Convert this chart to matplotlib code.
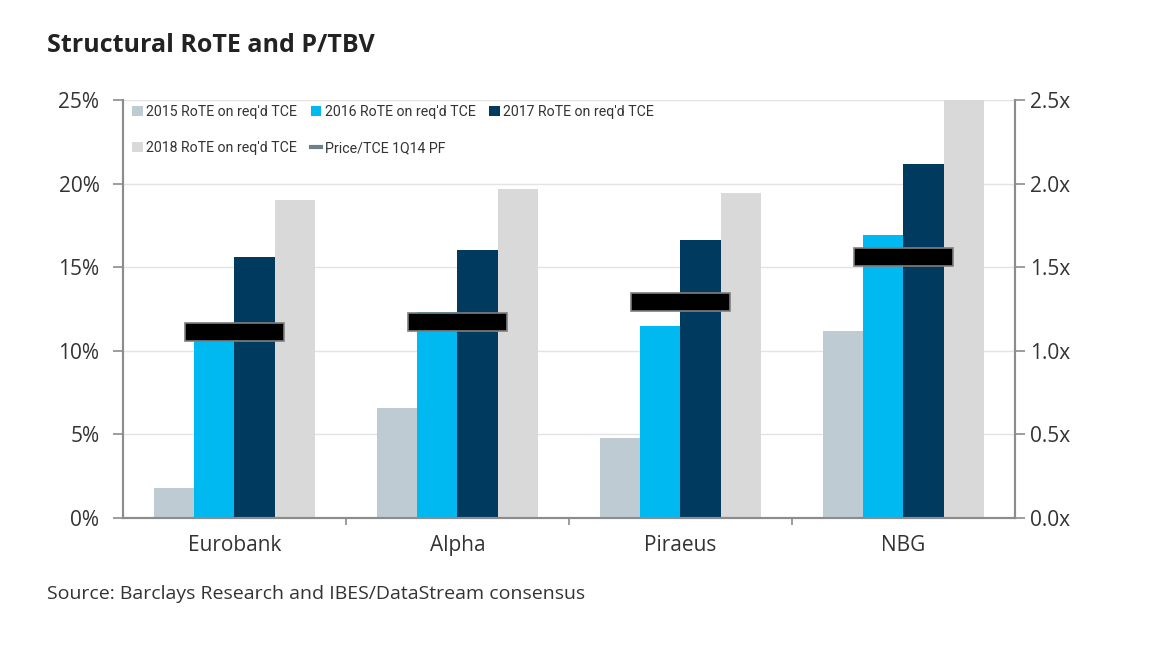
import numpy as np
import matplotlib
matplotlib.use("Agg")
import matplotlib.pyplot as plt
from matplotlib.lines import Line2D
from matplotlib.patches import Patch

plt.rcParams['font.family'] = ['Open Sans', 'DejaVu Sans']

banks = ["Eurobank", "Alpha", "Piraeus", "NBG"]
rote_2015 = [1.8, 6.6, 4.8, 11.2]
rote_2016 = [10.6, 12.3, 11.5, 16.9]
rote_2017 = [15.6, 16.0, 16.6, 21.2]
rote_2018 = [19.0, 19.7, 19.45, 26.0]
price_tce = [1.11, 1.17, 1.29, 1.56]

series = [
    ("2015 RoTE on req'd TCE", rote_2015, "#bfcbd3"),
    ("2016 RoTE on req'd TCE", rote_2016, "#00b9f1"),
    ("2017 RoTE on req'd TCE", rote_2017, "#003a5e"),
    ("2018 RoTE on req'd TCE", rote_2018, "#d9d9d9"),
]

txt = "#333333"
spine_c = "#8c8c8c"

fig = plt.figure(figsize=(11.68, 6.56), dpi=100)
ax = fig.add_axes([0.1053, 0.2104, 0.7637, 0.6372])
ax2 = ax.twinx()

x = np.arange(len(banks))
w = 0.181
handles = []
for i, (name, vals, col) in enumerate(series):
    ax.bar(x + (i - 1.5) * w, vals, width=w, color=col, zorder=2)
    handles.append(Patch(facecolor=col, label=name))

# Price/TCE markers (wide black blocks)
bh = 0.107
ax2.bar(x, [bh] * len(x), bottom=np.array(price_tce) - bh / 2, width=0.44,
        color="black", edgecolor="#7f7f7f", linewidth=1.2, zorder=5)

ax.set_xlim(-0.5, 3.5)
ax.set_ylim(0, 25)
ax2.set_ylim(0, 2.5)

ax.set_yticks(np.arange(0, 26, 5))
ax.set_yticklabels([f"{v}%" for v in range(0, 26, 5)])
ax2.set_yticks(np.arange(0, 2.51, 0.5))
ax2.set_yticklabels([f"{v:.1f}x" for v in np.arange(0, 2.51, 0.5)])

ax.set_xticks(x)
ax.set_xticklabels(banks)
ax.set_xticks([0.5, 1.5, 2.5], minor=True)
ax.tick_params(axis="x", which="major", length=0, pad=12, labelsize=15, labelcolor=txt)
ax.tick_params(axis="x", which="minor", length=5, width=1.2, color=spine_c, direction="out")
ax.tick_params(axis="y", length=7, width=1.2, color=spine_c, labelsize=15, labelcolor=txt, pad=10)
ax2.tick_params(axis="y", length=7, width=1.2, color=spine_c, labelsize=15, labelcolor=txt, pad=4)

ax.grid(axis="y", color="#e3e3e3", linewidth=1, zorder=0)
ax.set_axisbelow(True)

for a in (ax, ax2):
    a.spines["top"].set_visible(False)
    for s in ("left", "right", "bottom"):
        a.spines[s].set_color(spine_c)
        a.spines[s].set_linewidth(1.5)

price_handle = Line2D([0], [0], color="#6f7f8c", linewidth=3, label="Price/TCE 1Q14 PF")
order = [handles[0], handles[3], handles[1], price_handle, handles[2]]
leg = ax.legend(handles=order, ncol=3, frameon=False, loc="upper left",
                bbox_to_anchor=(-0.004, 1.018), handlelength=0.75,
                handleheight=0.75, handletextpad=0.25, columnspacing=0.95,
                labelspacing=1.55, labelcolor=txt,
                prop={"family": ["Roboto", "DejaVu Sans"], "size": 10.2})
leg.set_zorder(10)

fig.text(0.040, 0.930, "Structural RoTE and P/TBV", fontsize=18, fontweight="bold",
         color="#222222", va="center")
fig.text(0.040, 0.094, "Source: Barclays Research and IBES/DataStream consensus",
         fontsize=14, color=txt, va="center")

fig.savefig("out.png", dpi=100)
